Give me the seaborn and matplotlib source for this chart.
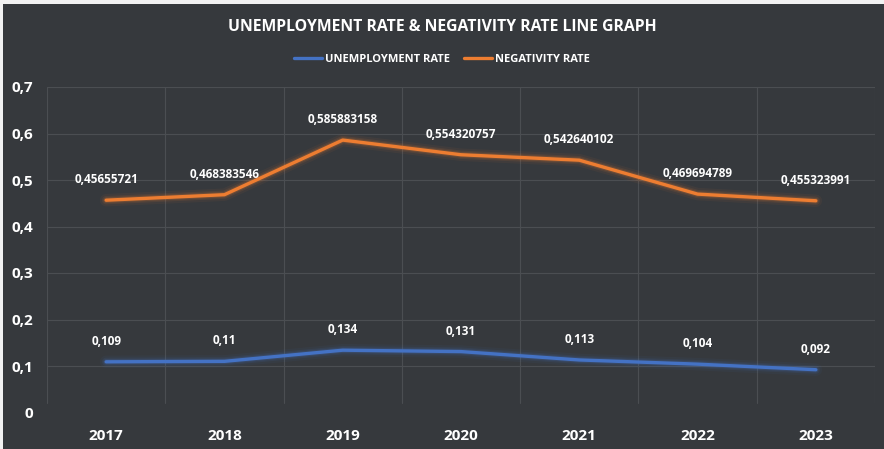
import matplotlib
matplotlib.use("Agg")
import matplotlib.pyplot as plt
import seaborn as sns
import pandas as pd
from matplotlib.patches import Rectangle

# --- data ---
years = ["2017", "2018", "2019", "2020", "2021", "2022", "2023"]
unemployment = [0.109, 0.11, 0.134, 0.131, 0.113, 0.104, 0.092]
negativity = [0.45655721, 0.468383546, 0.585883158, 0.554320757,
              0.542640102, 0.469694789, 0.455323991]
unemp_labels = ["0,109", "0,11", "0,134", "0,131", "0,113", "0,104", "0,092"]
neg_labels = ["0,45655721", "0,468383546", "0,585883158", "0,554320757",
              "0,542640102", "0,469694789", "0,455323991"]
y_ticks = [0, 0.1, 0.2, 0.3, 0.4, 0.5, 0.6, 0.7]
y_ticklabels = ["0", "0,1", "0,2", "0,3", "0,4", "0,5", "0,6", "0,7"]

BG = "#36393d"
GRID = "#4b4e52"
BLUE = "#4472c4"
ORANGE = "#ed7d31"

sns.set_style("dark")
plt.rcParams["font.family"] = ["Open Sans", "DejaVu Sans"]
plt.rcParams["font.weight"] = "bold"

df = pd.DataFrame({
    "year": years * 2,
    "rate": unemployment + negativity,
    "series": ["UNEMPLOYMENT RATE"] * len(years) + ["NEGATIVITY RATE"] * len(years),
})
palette = {"UNEMPLOYMENT RATE": BLUE, "NEGATIVITY RATE": ORANGE}

fig = plt.figure(figsize=(8.84, 4.49), dpi=100, facecolor="#f2f2f2")
fig.patches.append(Rectangle((3 / 884, 0), 1, 1 - 4 / 449, transform=fig.transFigure,
                             facecolor=BG, edgecolor="none", zorder=-10))
ax = fig.add_axes([47 / 884, 1 - 412.5 / 449, (875 - 47) / 884, (412.5 - 87) / 449])
ax.set_facecolor(BG)

# soft glow under the lines
for lw, a in [(9, 0.06), (6, 0.10), (4, 0.18)]:
    sns.lineplot(data=df, x="year", y="rate", hue="series", palette=palette,
                 lw=lw, alpha=a, legend=False, ax=ax, sort=False)
sns.lineplot(data=df, x="year", y="rate", hue="series", palette=palette,
             lw=2.4, ax=ax, sort=False)

ax.set_xlim(-0.5, len(years) - 0.5)
ax.set_ylim(0, 0.7)
ax.set_yticks(y_ticks)
ax.set_yticklabels(y_ticklabels, fontweight="bold")
ax.set_xticks(range(len(years)))
ax.set_xticklabels(years, fontweight="bold")

# gridlines: horizontal at ticks, vertical at category boundaries
for y in y_ticks[1:]:
    ax.axhline(y, color=GRID, lw=0.8, zorder=0)
for i in range(len(years) + 1):
    ax.axvline(i - 0.5, ymin=0.03, color=GRID, lw=0.8, zorder=0)
ax.grid(False)
for s in ax.spines.values():
    s.set_visible(False)

ax.tick_params(axis="both", length=0, colors="white", labelsize=11)
ax.tick_params(axis="y", pad=10)
ax.tick_params(axis="x", pad=12)
ax.set_xlabel("")
ax.set_ylabel("")

for i in range(len(years)):
    ax.annotate(neg_labels[i], (i, negativity[i]), xytext=(0, 10), textcoords="offset points",
                ha="center", va="bottom", color="white", fontsize=8.5, fontweight="bold")
    ax.annotate(unemp_labels[i], (i, unemployment[i]), xytext=(0, 10), textcoords="offset points",
                ha="center", va="bottom", color="white", fontsize=8.5, fontweight="bold")

fig.text(0.5, 1 - 27 / 449, "UNEMPLOYMENT RATE & NEGATIVITY RATE LINE GRAPH",
         ha="center", va="center", color="white", fontsize=11.3, fontweight="bold")

leg = ax.legend(loc="center", bbox_to_anchor=(0.5, 1 - 59 / 449), bbox_transform=fig.transFigure,
                ncol=2, frameon=False, handlelength=2.5, handletextpad=0.3,
                columnspacing=1.2, prop={"size": 8, "weight": "bold"})
for t in leg.get_texts():
    t.set_color("white")
for h in leg.get_lines():
    h.set_linewidth(2.4)

fig.savefig("out.png", dpi=100, facecolor=fig.get_facecolor())
